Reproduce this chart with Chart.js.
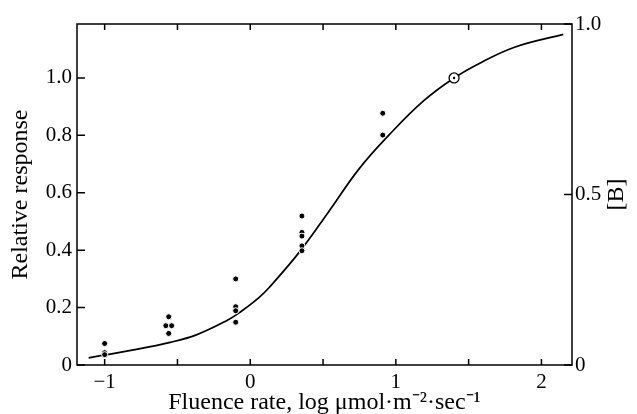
<!DOCTYPE html>
<html>
<head>
<meta charset="utf-8">
<script src="https://cdn.jsdelivr.net/npm/chart.js@4.4.1/dist/chart.umd.min.js"></script>
<style>
    html, body { margin: 0; padding: 0; background: #fff; }
    #wrap { width: 637px; height: 414px; }
</style>
</head>
<body>
<div id="wrap"><canvas id="fluence-chart" width="637" height="414"></canvas></div>
<script>
// fitted curve
const curveX = [-1.11, -1.0, -0.83, -0.55, -0.37, -0.16, -0.07, 0.06, 0.13, 0.34, 0.54, 0.75, 0.96, 1.19, 1.40, 1.59, 1.82, 2.15];
const curveY = [0.025, 0.035, 0.050, 0.079, 0.105, 0.155, 0.184, 0.235, 0.27, 0.395, 0.535, 0.685, 0.805, 0.92, 1.0, 1.055, 1.108, 1.152];

// measured responses
const pointX = [-1.0, -1.0, -1.0, -0.56, -0.58, -0.54, -0.56, -0.10, -0.10, -0.10, -0.10, 0.355, 0.355, 0.355, 0.355, 0.355, 0.91, 0.91];
const pointY = [0.075, 0.043, 0.036, 0.168, 0.137, 0.137, 0.110, 0.30, 0.203, 0.189, 0.149, 0.519, 0.462, 0.449, 0.415, 0.398, 0.877, 0.801];

// reference point (open circle)
const refX = [1.40];
const refY = [1.0];

const xTicks = [-1, -0.5, 0, 0.5, 1, 1.5, 2];
const xTickLabels = ['\u22121', '', '0', '', '1', '', '2'];
const yTicks = [0, 0.2, 0.4, 0.6, 0.8, 1.0];
const yTickLabels = ['0', '0.2', '0.4', '0.6', '0.8', '1.0'];
const bTicks = [0, 0.5, 1.0];
const bTickLabels = ['0', '0.5', '1.0'];

const toXY = (xs, ys) => xs.map((x, i) => ({ x: x, y: ys[i] }));

// inward tick marks, frame and the [B] label
const frameTicks = {
    id: 'frameTicks',
    afterDraw(chart) {
        const { ctx, chartArea: a, scales } = chart;
        ctx.save();
        ctx.strokeStyle = '#000';
        ctx.lineWidth = 1.5;
        ctx.strokeRect(a.left, a.top, a.right - a.left, a.bottom - a.top);
        ctx.beginPath();
        scales.x.ticks.forEach(t => {
            const px = scales.x.getPixelForValue(t.value);
            ctx.moveTo(px, a.bottom); ctx.lineTo(px, a.bottom - 6);
            ctx.moveTo(px, a.top); ctx.lineTo(px, a.top + 6);
        });
        scales.y.ticks.forEach(t => {
            const py = scales.y.getPixelForValue(t.value);
            ctx.moveTo(a.left, py); ctx.lineTo(a.left + 8, py);
        });
        scales.y2.ticks.forEach(t => {
            const py = scales.y2.getPixelForValue(t.value);
            ctx.moveTo(a.right, py); ctx.lineTo(a.right - 8, py);
        });
        ctx.stroke();

        ctx.fillStyle = '#000';
        ctx.font = "24px 'Liberation Serif', serif";
        ctx.textAlign = 'center';
        ctx.textBaseline = 'middle';
        ctx.translate(617, (a.top + a.bottom) / 2);
        ctx.rotate(-Math.PI / 2);
        ctx.fillText('[B]', 0, 0);
        ctx.restore();
    }
};

function renderFluenceChart() {
    const ctx = document.getElementById('fluence-chart');

    Chart.defaults.font.family = "'Liberation Serif', 'Times New Roman', serif";
    Chart.defaults.color = '#000';

    new Chart(ctx, {
        type: 'scatter',
        data: {
            datasets: [{
                data: [{ x: refX[0], y: refY[0] }],
                pointRadius: 1.2,
                pointBackgroundColor: '#000',
                pointBorderWidth: 0,
                order: 0
            }, {
                data: toXY(refX, refY),
                pointRadius: 5,
                pointBackgroundColor: '#fff',
                pointBorderColor: '#000',
                pointBorderWidth: 1.3,
                order: 1
            }, {
                data: toXY(pointX, pointY),
                pointRadius: 3,
                pointBackgroundColor: '#000',
                pointBorderColor: '#fff',
                pointBorderWidth: 1,
                order: 2
            }, {
                type: 'line',
                data: toXY(curveX, curveY),
                borderColor: '#000',
                borderWidth: 1.7,
                pointRadius: 0,
                fill: false,
                tension: 0.4,
                order: 3
            }]
        },
        options: {
            responsive: false,
            animation: false,
            layout: { padding: { top: 24, left: 0, right: 0, bottom: 0 } },
            scales: {
                x: {
                    type: 'linear',
                    min: -1.19,
                    max: 2.21,
                    afterBuildTicks: s => { s.ticks = xTicks.map(v => ({ value: v })); },
                    afterFit: s => { s.height = 49; },
                    grid: { display: false, drawTicks: false },
                    border: { display: false },
                    ticks: {
                        padding: 5,
                        autoSkip: false,
                        maxRotation: 0,
                        font: { size: 21 },
                        callback: (v, i) => xTickLabels[i]
                    },
                    title: {
                        display: true,
                        text: 'Fluence rate, log \u03bcmol\u00b7m\u207b\u00b2\u00b7sec\u207b\u00b9',
                        font: { size: 24 },
                        padding: { top: 0, bottom: -3 }
                    }
                },
                y: {
                    type: 'linear',
                    position: 'left',
                    min: 0,
                    max: 1.188,
                    afterBuildTicks: s => { s.ticks = yTicks.map(v => ({ value: v })); },
                    afterFit: s => { s.width = 77; },
                    grid: { display: false, drawTicks: false },
                    border: { display: false },
                    ticks: {
                        padding: 5,
                        font: { size: 21 },
                        callback: (v, i) => yTickLabels[i]
                    },
                    title: {
                        display: true,
                        text: 'Relative response',
                        font: { size: 24 },
                        padding: { top: 6, bottom: 0 }
                    }
                },
                y2: {
                    type: 'linear',
                    position: 'right',
                    min: 0,
                    max: 1,
                    afterBuildTicks: s => { s.ticks = bTicks.map(v => ({ value: v })); },
                    afterFit: s => { s.width = 65; },
                    grid: { display: false, drawTicks: false },
                    border: { display: false },
                    ticks: {
                        padding: 3,
                        font: { size: 21 },
                        callback: (v, i) => bTickLabels[i]
                    }
                }
            },
            plugins: {
                legend: { display: false },
                tooltip: { enabled: false }
            }
        },
        plugins: [frameTicks]
    });
}

renderFluenceChart();
</script>
</body>
</html>
